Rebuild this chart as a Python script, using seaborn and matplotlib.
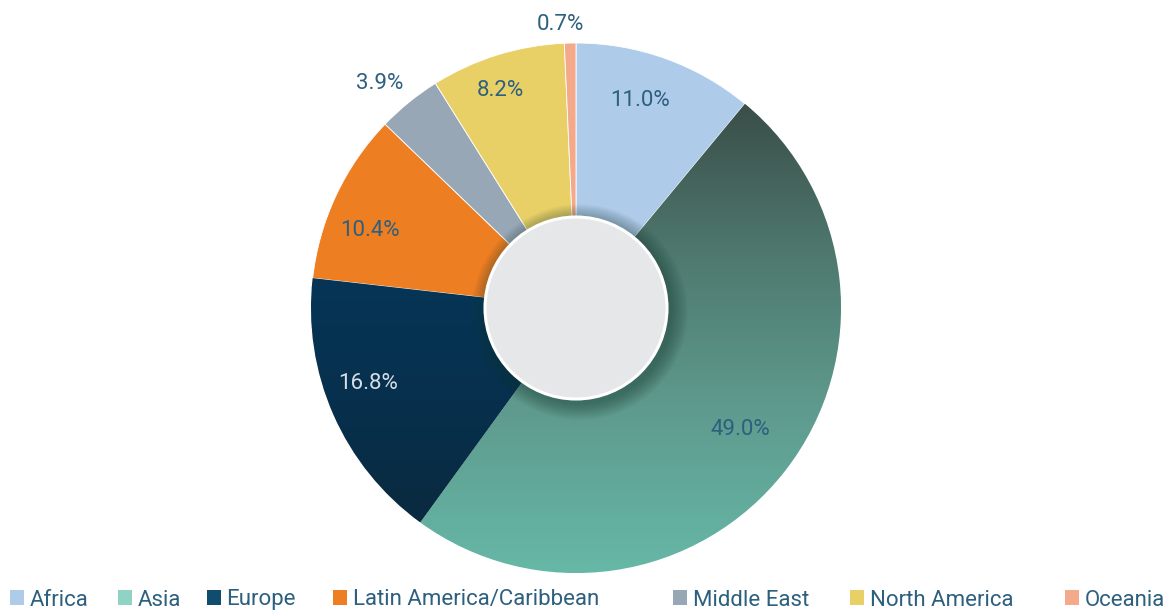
import numpy as np
import matplotlib
matplotlib.use("Agg")
import matplotlib.pyplot as plt
import seaborn as sns
from matplotlib.patches import Circle, Patch
from matplotlib.colors import LinearSegmentedColormap

regions = ["Africa", "Asia", "Europe", "Latin America/Caribbean",
           "Middle East", "North America", "Oceania"]
shares = [11.0, 49.0, 16.8, 10.4, 3.9, 8.2, 0.7]
labels = ["11.0%", "49.0%", "16.8%", "10.4%", "3.9%", "8.2%", "0.7%"]

sns.set_theme(style="white")
plt.rcParams["font.family"] = ["Roboto", "DejaVu Sans"]

wedge_colors = ["#AFCBEA", "#5E9E92", "#08304D", "#EE7E22", "#97A7B6", "#E8D067", "#F4A98B"]
legend_colors = ["#AFCBEA", "#8FD3C5", "#0F4C6E", "#EE7E22", "#97A7B6", "#E8D067", "#F4A98B"]
text_color = "#2D5F7F"

W, H = 1172, 612
fig = plt.figure(figsize=(W / 100, H / 100), dpi=100)
ax = fig.add_axes([0, 0, 1, 1])

wedges, _ = ax.pie(shares, colors=wedge_colors, startangle=90, counterclock=False,
                   radius=1.0, wedgeprops=dict(edgecolor="white", linewidth=0.6))

cx, cy, R = 576, 304, 265
ax.set_xlim(-cx / R, (W - cx) / R)
ax.set_ylim(-cy / R, (H - cy) / R)
ax.set_aspect("equal")
ax.axis("off")

# gradients on Asia and Europe
grad_specs = {
    1: ["#3A4E48", "#4F7A70", "#5F9C8F", "#66B8A7"],
    2: ["#063557", "#07304D", "#0A2A3F"],
}
for idx, cols in grad_specs.items():
    w = wedges[idx]
    cmap = LinearSegmentedColormap.from_list(f"g{idx}", cols)
    bb = w.get_path().get_extents(w.get_patch_transform())
    grad = np.linspace(0, 1, 256).reshape(-1, 1)
    im = ax.imshow(grad, cmap=cmap, aspect="auto", origin="upper",
                   extent=[bb.x0, bb.x1, bb.y0, bb.y1], zorder=w.get_zorder() + 0.1,
                   interpolation="bilinear")
    im.set_clip_path(w)

# inner circle shadow
rin = 91 / R
for k in range(16):
    ax.add_patch(Circle((0.014, -0.016), rin + 0.004 * (k + 1), facecolor="#1d3a33",
                        edgecolor="none", alpha=0.03, zorder=4))
ax.add_patch(Circle((0, 0), rin, facecolor="#E6E7E8", edgecolor="white",
                    linewidth=2.2, zorder=5))

# labels (radius and small angle offset per wedge)
radii = [0.818, 0.771, 0.836, 0.831, 1.123, 0.868, 1.073]
ang_off = [2.6, 1.2, -3.7, 4.5, 2.1, 2.0, 1.9]
lab_colors = [text_color, text_color, "#D5DEE6", text_color, text_color, text_color, text_color]
for w, lab, r, da, c in zip(wedges, labels, radii, ang_off, lab_colors):
    ang = np.deg2rad((w.theta1 + w.theta2) / 2 + da)
    ax.text(r * np.cos(ang), r * np.sin(ang), lab, ha="center", va="center",
            fontsize=16, color=c, zorder=6)

# legend entries placed individually
swatch_x = [10, 118, 207, 333, 673, 850, 1065]
for name, col, sx in zip(regions, legend_colors, swatch_x):
    leg = fig.legend([Patch(facecolor=col, edgecolor="none")], [name],
                     loc="center left", bbox_to_anchor=(sx / W, 12 / H),
                     frameon=False, fontsize=16, handlelength=0.63,
                     handleheight=0.63, handletextpad=0.25, borderpad=0,
                     borderaxespad=0)
    for t in leg.get_texts():
        t.set_color(text_color)

fig.savefig("out.png", dpi=100)
